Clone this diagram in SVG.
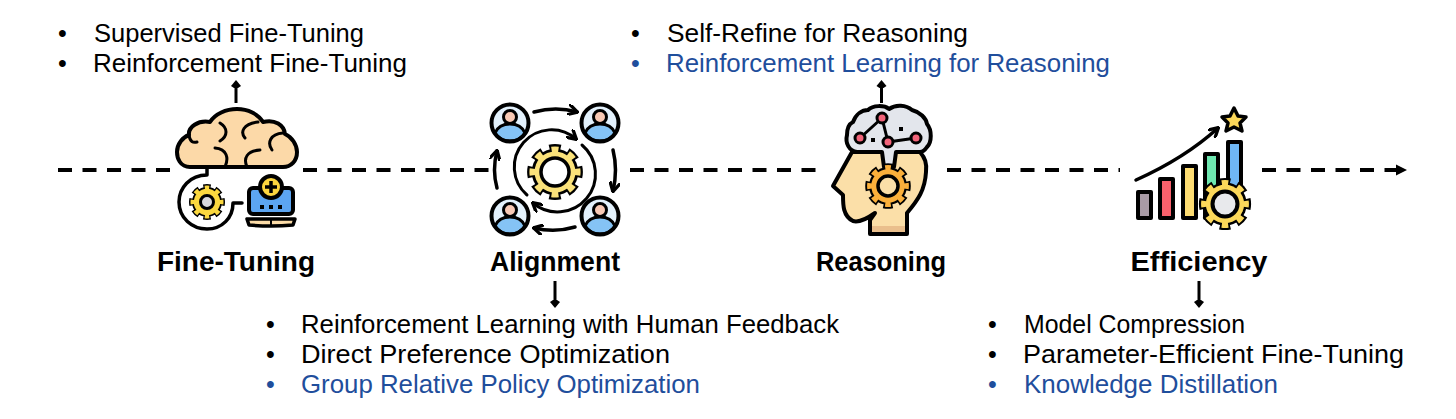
<svg xmlns="http://www.w3.org/2000/svg" width="1456" height="419" viewBox="0 0 1456 419">
<style>
text{font-family:"Liberation Sans",Arial,sans-serif;fill:#000;font-size:25px}
.t{font-weight:700;font-size:27px;text-anchor:middle}
.b{fill:#1f4e9c}
.o{stroke:#000;stroke-width:3.500;stroke-linejoin:round;stroke-linecap:round;fill:none}
.k{stroke:#000;stroke-width:3;fill:none;stroke-linecap:round;stroke-linejoin:round}
.d{stroke-dasharray:14 10.500}
</style>
<defs>
<marker id="open" viewBox="0 0 10 10" markerWidth="11" markerHeight="11" refX="8.500" refY="5" orient="auto" markerUnits="userSpaceOnUse"><path d="M1 0.500L9 5L1 9.500" fill="none" stroke="#000" stroke-width="3" stroke-linecap="round" stroke-linejoin="round"/></marker>
<g id="person">
<circle r="18.500" fill="#e3f1fc"/>
<path d="M-15 10C-12 3-6 1 0 1S12 3 15 10A18 18 0 0 1-15 10Z" fill="#85c3f5" stroke="#000" stroke-width="3"/>
<circle r="18.500" fill="none" stroke="#000" stroke-width="4"/>
<circle cy="-6" r="6.500" fill="#f8c9b5" stroke="#000" stroke-width="3"/>
</g>
<g id="gear">
<circle r="24" fill="none" stroke="#000" stroke-width="12" pathLength="80" stroke-dasharray="6 4" stroke-dashoffset="3"/>
<circle r="25" fill="#000"/>
<circle r="23.500" fill="none" stroke="currentColor" stroke-width="8" pathLength="80" stroke-dasharray="4 6" stroke-dashoffset="2"/>
<circle r="22" fill="currentColor"/>
</g>
</defs>
<g id="connectors" fill="none" stroke="#000" stroke-width="4">
<path class="d" d="M58 170H175"/>
<path class="d" d="M303 170H490"/>
<path class="d" d="M630 170H820"/>
<path class="d" d="M947 170H1120"/>
<path class="d" d="M1262 170H1400"/>
<path d="M1396 164.500L1407 170L1396 175.500Z" fill="#000" stroke="none"/>
<path d="M236 103V86" stroke-width="3"/>
<path d="M236 80L241 86L238 88H234L231 86Z" fill="#000" stroke="none"/>
<path d="M881.500 103V86" stroke-width="3"/>
<path d="M881.500 80L886.500 86L883.500 88H879.500L876.500 86Z" fill="#000" stroke="none"/>
<path d="M555 281V301" stroke-width="3"/>
<path d="M555 308L560 302L557 300H553L550 302Z" fill="#000" stroke="none"/>
<path d="M1199 281V301" stroke-width="3"/>
<path d="M1199 308L1204 302L1201 300H1197L1194 302Z" fill="#000" stroke="none"/>
</g>
<g id="fine-tuning">
<path d="M190 167C180 167 177 158 177 152C177 144 183 137 189 135C188 127 198 120 210 122C215 114 226 109 237 109C248 109 258 114 263 122C275 119 284 125 285 134C292 137 297 145 297 152C297 161 291 167 283 167Z" fill="#fcd9a8" stroke="#000" stroke-width="4" stroke-linejoin="round"/>
<path class="k" d="M220 123C228 128 228 136 220 141M189 135C190 142 193 143 197 142M215 148C227 149 229 158 225 167M260 150C247 151 243 158 247 167M258 122C243 124 240 132 245 138M283 133C270 134 267 143 272 150"/>
<path class="o" d="M207 169V175C190 175 179 188 179 202C179 218 192 229 207 229C222 229 233 218 233 203H242"/>
<use href="#gear" transform="translate(207 202) scale(.6)" color="#fbd83f"/>
<circle cx="207" cy="202" r="6.500" fill="#d9d9dc" stroke="#000" stroke-width="3"/>
<rect x="249" y="188" width="44" height="26" rx="4" fill="#5ca5f2" stroke="#000" stroke-width="4"/>
<path d="M260 205h4v4h-4zM269 205h4v4h-4zM278 205h4v4h-4z" fill="#000"/>
<circle cx="271" cy="187" r="11" fill="#fcd53f" stroke="#000" stroke-width="4"/>
<path d="M271 181V193M265 187H277" stroke="#000" stroke-width="3.500"/>
<path d="M247 219H295L293 225Q271 227 249 225Z" fill="#fcdca8" stroke="#000" stroke-width="3.500" stroke-linejoin="round"/>
<path d="M271 219V226" stroke="#000" stroke-width="2"/>
<text class="t" x="236" y="271" textLength="158" lengthAdjust="spacingAndGlyphs">Fine-Tuning</text>
</g>
<g id="alignment">
<use href="#person" x="510" y="123"/>
<use href="#person" x="600" y="123"/>
<use href="#person" x="510" y="216"/>
<use href="#person" x="600" y="216"/>
<path class="o" marker-end="url(#open)" d="M534 112Q556 106 577 112"/>
<path class="o" marker-end="url(#open)" d="M613 150Q618 170 613 191"/>
<path class="o" marker-end="url(#open)" d="M575 227Q555 233 534 228"/>
<path class="o" marker-end="url(#open)" d="M497 188Q492 170 497 151"/>
<path class="k" marker-end="url(#open)" d="M527 195A37 37 0 0 1 576 139"/>
<path class="k" marker-end="url(#open)" d="M582 145A37 37 0 0 1 533 203"/>
<use href="#gear" transform="translate(555 172) scale(.93)" color="#fbe27a"/>
<circle cx="555" cy="172" r="14" fill="#fff" stroke="#000" stroke-width="3.500"/>
<text class="t" x="555" y="271" textLength="130" lengthAdjust="spacingAndGlyphs">Alignment</text>
</g>
<g id="reasoning">
<path d="M852 152L838 177L833 186L843 195C843 205 843 216 853 221C860 223 868 218 875 213L870 220V234H907V213C918 200 925 190 926 172C927 163 925 158 920 152Z" fill="#fbdfa8" stroke="#000" stroke-width="4" stroke-linejoin="round"/>
<path d="M872 226H905V232H872Z" fill="#eabf8c"/>
<path d="M857 152C849 151 845 143 847 135C847 128 849 124 853 122C856 114 862 110 868 110C873 105 884 105 889 109C896 104 906 105 912 110C920 112 926 118 927 124C932 130 932 142 927 147C925 150 922 152 920 152H896L894 167H884L882 152Z" fill="#e3e6ec" stroke="#000" stroke-width="4" stroke-linejoin="round"/>
<path class="k" d="M882 118L860 138M882 118L888 142L916 138"/>
<path d="M871 138h4v4h-4zM899 127h4v4h-4z" fill="#000"/>
<circle cx="882" cy="118" r="5" fill="#f2647a" stroke="#000" stroke-width="3"/>
<circle cx="860" cy="138" r="5" fill="#f2647a" stroke="#000" stroke-width="3"/>
<circle cx="888" cy="142" r="5" fill="#f2647a" stroke="#000" stroke-width="3"/>
<circle cx="916" cy="138" r="5" fill="#f2647a" stroke="#000" stroke-width="3"/>
<use href="#gear" transform="translate(888 186) scale(.76)" color="#fbb03b"/>
<circle cx="888" cy="186" r="10" fill="#fbdfa8" stroke="#000" stroke-width="3.500"/>
<text class="t" x="881" y="271" textLength="130" lengthAdjust="spacingAndGlyphs">Reasoning</text>
</g>
<g id="efficiency">
<g stroke="#000" stroke-width="4" stroke-linejoin="round">
<rect x="1138" y="192" width="13" height="26" fill="#a89aa5"/>
<rect x="1160" y="179" width="13" height="39" fill="#f8616c"/>
<rect x="1183" y="166" width="13" height="52" fill="#fddc72"/>
<rect x="1205" y="154" width="13" height="64" fill="#6ee7b0"/>
<rect x="1228" y="142" width="13" height="64" fill="#6fb7f5"/>
</g>
<path class="o" marker-end="url(#open)" d="M1136 180Q1185 158 1218 128"/>
<path d="M1234 108L1238 116L1246 117L1240 123L1242 131L1234 127L1226 131L1228 123L1222 117L1230 116Z" fill="#fcd85a" stroke="#000" stroke-width="3.500" stroke-linejoin="round"/>
<use href="#gear" transform="translate(1225 204) scale(.87)" color="#fcd85a"/>
<circle cx="1225" cy="204" r="12.500" fill="#e8e9ec" stroke="#000" stroke-width="4"/>
<text class="t" x="1199" y="271" textLength="137" lengthAdjust="spacingAndGlyphs">Efficiency</text>
</g>
<g id="list-fine-tuning">
<text x="58" y="42">•</text><text x="94" y="42" textLength="270" lengthAdjust="spacingAndGlyphs">Supervised Fine-Tuning</text>
<text x="58" y="72">•</text><text x="93" y="72" textLength="314" lengthAdjust="spacingAndGlyphs">Reinforcement Fine-Tuning</text>
</g>
<g id="list-reasoning">
<text x="631" y="42">•</text><text x="667" y="42" textLength="301" lengthAdjust="spacingAndGlyphs">Self-Refine for Reasoning</text>
<text class="b" x="631" y="72">•</text><text class="b" x="666" y="72" textLength="444" lengthAdjust="spacingAndGlyphs">Reinforcement Learning for Reasoning</text>
</g>
<g id="list-alignment">
<text x="266" y="333">•</text><text x="301" y="333" textLength="538" lengthAdjust="spacingAndGlyphs">Reinforcement Learning with Human Feedback</text>
<text x="266" y="363">•</text><text x="301" y="363" textLength="369" lengthAdjust="spacingAndGlyphs">Direct Preference Optimization</text>
<text class="b" x="266" y="393">•</text><text class="b" x="301" y="393" textLength="399" lengthAdjust="spacingAndGlyphs">Group Relative Policy Optimization</text>
</g>
<g id="list-efficiency">
<text x="988" y="333">•</text><text x="1024" y="333" textLength="221" lengthAdjust="spacingAndGlyphs">Model Compression</text>
<text x="988" y="363">•</text><text x="1023" y="363" textLength="381" lengthAdjust="spacingAndGlyphs">Parameter-Efficient Fine-Tuning</text>
<text class="b" x="988" y="393">•</text><text class="b" x="1024" y="393" textLength="254" lengthAdjust="spacingAndGlyphs">Knowledge Distillation</text>
</g>
</svg>
